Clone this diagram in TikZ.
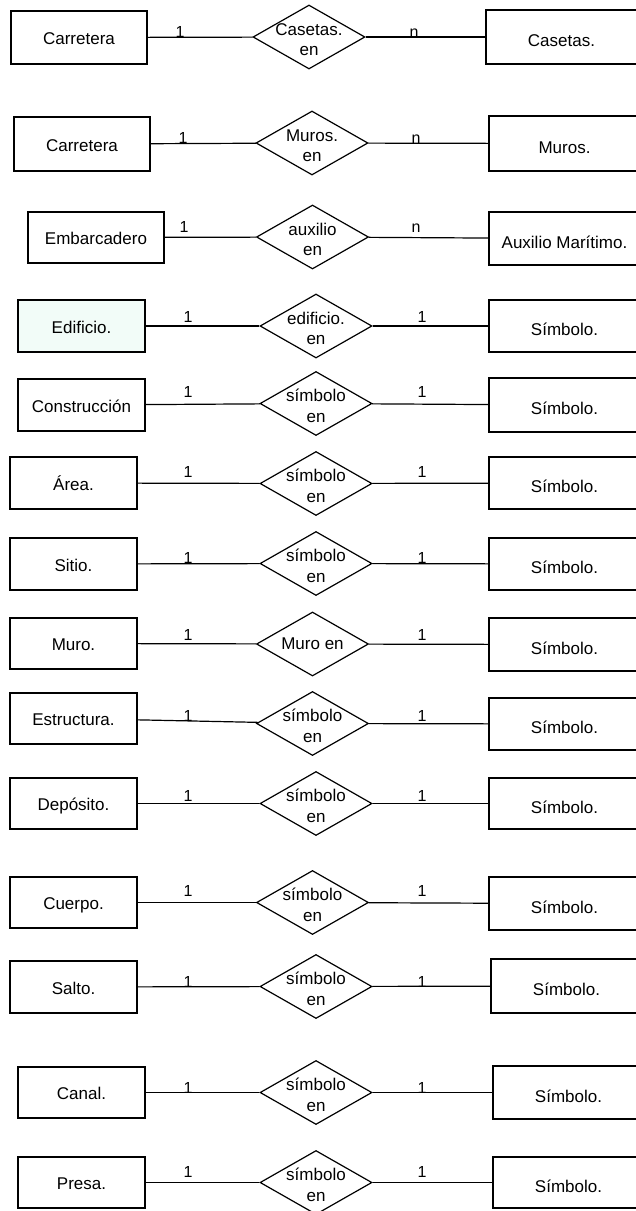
\documentclass[tikz,border=0pt]{standalone}
\usepackage{fontspec}
\setmainfont{Liberation Sans}
\usetikzlibrary{shapes.geometric}
\definecolor{mint}{HTML}{F2FCF8}
\tikzset{
  ent/.style={draw=black, line width=1.2pt, fill=white, inner sep=0pt,
    text height=14pt, text depth=0pt,
    font=\fontsize{17}{20}\selectfont},
  symb/.style={ent, text height=19pt, text depth=0pt},
  rel/.style={draw=black, line width=1.2pt, fill=white, shape=diamond,
    minimum width=112pt, minimum height=64pt, inner sep=0pt},
  reltext/.style={align=center, inner sep=0pt, yshift=-2.5pt,
    font=\fontsize{17}{20.5}\selectfont},
  card/.style={anchor=base, inner sep=0pt, font=\fontsize{16}{18}\selectfont},
  link/.style={draw=black, line width=1.2pt},
}
\begin{document}
\begin{tikzpicture}[x=1pt,y=-1pt]
\useasboundingbox (0,0) rectangle (636,1211);
\clip (0,0) rectangle (636,1211);
\fill[white] (0,0) rectangle (636,1211);

% row 1
\node[ent, minimum width=136pt, minimum height=53pt] (l1) at (79,37.5) {Carretera};
\node[rel] (d1) at (309,37) {};
\node[reltext] (t1) at (d1) {Casetas.\\en};
\node[symb, minimum width=151pt, minimum height=54pt] (r1) at (561.5,37) {Casetas.};
\draw[link] (l1) -- (d1);
\draw[link] (d1) -- (r1);
\node[card] (a1) at (180,37) {1};
\node[card] (b1) at (414,37) {n};

% row 2
\node[ent, minimum width=136pt, minimum height=54pt] (l2) at (82,144) {Carretera};
\node[rel] (d2) at (312,143) {};
\node[reltext] (t2) at (d2) {Muros.\\en};
\node[symb, minimum width=151pt, minimum height=55pt] (r2) at (564.5,143.5) {Muros.};
\draw[link] (l2) -- (d2);
\draw[link] (d2) -- (r2);
\node[card] (a2) at (183,143) {1};
\node[card] (b2) at (416,143) {n};

% row 3
\node[ent, minimum width=136pt, minimum height=51pt] (l3) at (96,237.5) {Embarcadero};
\node[rel] (d3) at (312.5,237) {};
\node[reltext] (t3) at (d3) {auxilio\\en};
\node[symb, minimum width=151pt, minimum height=53pt] (r3) at (564.5,238.5) {Auxilio Marítimo.};
\draw[link] (l3) -- (d3);
\draw[link] (d3) -- (r3);
\node[card] (a3) at (184,232) {1};
\node[card] (b3) at (416,232) {n};

% row 4
\node[ent, fill=mint, minimum width=127pt, minimum height=52pt] (l4) at (81.5,326) {Edificio.};
\node[rel] (d4) at (316,326) {};
\node[reltext] (t4) at (d4) {edificio.\\en};
\node[symb, minimum width=151pt, minimum height=52pt] (r4) at (564.5,326) {Símbolo.};
\draw[link] (l4) -- (d4);
\draw[link] (d4) -- (r4);
\node[card] (a4) at (188,322) {1};
\node[card] (b4) at (422,322) {1};

% row 5
\node[ent, minimum width=127pt, minimum height=52pt] (l5) at (81.5,405) {Construcción};
\node[rel] (d5) at (316,403.5) {};
\node[reltext] (t5) at (d5) {símbolo\\en};
\node[symb, minimum width=151pt, minimum height=54pt] (r5) at (564.5,405) {Símbolo.};
\draw[link] (l5) -- (d5);
\draw[link] (d5) -- (r5);
\node[card] (a5) at (188,397) {1};
\node[card] (b5) at (422,397) {1};

% row 6
\node[ent, minimum width=127pt, minimum height=52pt] (l6) at (73.5,483) {Área.};
\node[rel] (d6) at (316,483.5) {};
\node[reltext] (t6) at (d6) {símbolo\\en};
\node[symb, minimum width=151pt, minimum height=52pt] (r6) at (564.5,483) {Símbolo.};
\draw[link] (l6) -- (d6);
\draw[link] (d6) -- (r6);
\node[card] (a6) at (188,477) {1};
\node[card] (b6) at (422,477) {1};

% row 7
\node[ent, minimum width=127pt, minimum height=52pt] (l7) at (73.5,564) {Sitio.};
\node[rel] (d7) at (316,563.5) {};
\node[reltext] (t7) at (d7) {símbolo\\en};
\node[symb, minimum width=151pt, minimum height=52pt] (r7) at (564.5,564) {Símbolo.};
\draw[link] (l7) -- (d7);
\draw[link] (d7) -- (r7);
\node[card] (a7) at (188,563) {1};
\node[card] (b7) at (422,563) {1};

% row 8
\node[ent, minimum width=127pt, minimum height=51pt] (l8) at (73.5,643.5) {Muro.};
\node[rel] (d8) at (312.5,644) {};
\node[reltext, yshift=2.5pt] (t8) at (d8) {Muro en};
\node[symb, minimum width=151pt, minimum height=53pt] (r8) at (564.5,644.5) {Símbolo.};
\draw[link] (l8) -- (d8);
\draw[link] (d8) -- (r8);
\node[card] (a8) at (188,640) {1};
\node[card] (b8) at (422,640) {1};

% row 9
\node[ent, minimum width=127pt, minimum height=51pt] (l9) at (73.5,718.5) {Estructura.};
\node[rel] (d9) at (312.5,723.5) {};
\node[reltext] (t9) at (d9) {símbolo\\en};
\node[symb, minimum width=151pt, minimum height=52pt] (r9) at (564.5,724) {Símbolo.};
\draw[link] (l9) -- (d9);
\draw[link] (d9) -- (r9);
\node[card] (a9) at (188,721) {1};
\node[card] (b9) at (422,721) {1};

% row 10
\node[ent, minimum width=127pt, minimum height=51pt] (l10) at (73.5,803.5) {Depósito.};
\node[rel] (d10) at (316,803.5) {};
\node[reltext] (t10) at (d10) {símbolo\\en};
\node[symb, minimum width=151pt, minimum height=51pt] (r10) at (564.5,803.5) {Símbolo.};
\draw[link] (l10) -- (d10);
\draw[link] (d10) -- (r10);
\node[card] (a10) at (188,801) {1};
\node[card] (b10) at (422,801) {1};

% row 11
\node[ent, minimum width=127pt, minimum height=51pt] (l11) at (73.5,902.5) {Cuerpo.};
\node[rel] (d11) at (312.5,902.5) {};
\node[reltext] (t11) at (d11) {símbolo\\en};
\node[symb, minimum width=151pt, minimum height=53pt] (r11) at (564.5,903.5) {Símbolo.};
\draw[link] (l11) -- (d11);
\draw[link] (d11) -- (r11);
\node[card] (a11) at (188,896) {1};
\node[card] (b11) at (422,896) {1};

% row 12
\node[ent, minimum width=127pt, minimum height=52pt] (l12) at (73.5,987) {Salto.};
\node[rel] (d12) at (316,986.5) {};
\node[reltext] (t12) at (d12) {símbolo\\en};
\node[symb, minimum width=151pt, minimum height=54pt] (r12) at (566.5,986) {Símbolo.};
\draw[link] (l12) -- (d12);
\draw[link] (d12) -- (r12);
\node[card] (a12) at (188,987) {1};
\node[card] (b12) at (422,987) {1};

% row 13
\node[ent, minimum width=127pt, minimum height=51pt] (l13) at (81.5,1092.5) {Canal.};
\node[rel] (d13) at (316,1092.5) {};
\node[reltext] (t13) at (d13) {símbolo\\en};
\node[symb, minimum width=151pt, minimum height=53pt] (r13) at (568.5,1092.5) {Símbolo.};
\draw[link] (l13) -- (d13);
\draw[link] (d13) -- (r13);
\node[card] (a13) at (188,1093) {1};
\node[card] (b13) at (422,1093) {1};

% row 14
\node[ent, minimum width=127pt, minimum height=51pt] (l14) at (81.5,1182.5) {Presa.};
\node[rel] (d14) at (316,1182.5) {};
\node[reltext] (t14) at (d14) {símbolo\\en};
\node[symb, minimum width=151pt, minimum height=51pt] (r14) at (568.5,1182.5) {Símbolo.};
\draw[link] (l14) -- (d14);
\draw[link] (d14) -- (r14);
\node[card] (a14) at (188,1177) {1};
\node[card] (b14) at (422,1177) {1};
\end{tikzpicture}
\end{document}
